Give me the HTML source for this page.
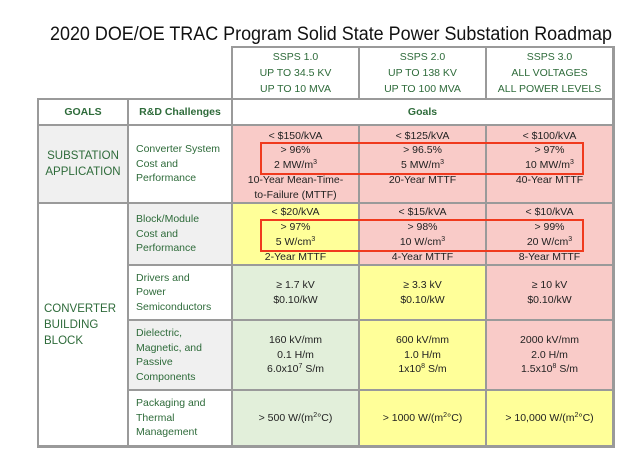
<!DOCTYPE html>
<html><head><meta charset="utf-8"><style>
body{margin:0;width:640px;height:462px;background:#fff;position:relative;overflow:hidden;font-family:"Liberation Sans",sans-serif}
.c{position:absolute;box-sizing:border-box;display:flex;flex-direction:column;justify-content:center;align-items:center;text-align:center;font-size:10.5px;line-height:14.5px;color:#222}
.g{color:#2e6b3a}
.l{align-items:flex-start;text-align:left;padding-left:8px}
.ln{position:absolute;background:#9a9a9a}
.red{position:absolute;border:2.5px solid #f03a1e;box-sizing:border-box}
sup{font-size:7px;line-height:0;vertical-align:4px}
.s{justify-content:flex-start;padding-top:3.6px;line-height:14.8px}
.b{justify-content:flex-start;padding-top:1.5px;line-height:15px}
</style></head><body>
<svg style="position:absolute;left:0;top:0" width="640" height="50"><text x="50" y="40" font-family="Liberation Sans,sans-serif" font-size="19" textLength="562" lengthAdjust="spacingAndGlyphs" fill="#111">2020 DOE/OE TRAC Program Solid State Power Substation Roadmap</text></svg>

<div class="c g" style="left:232px;top:47px;width:127px;height:52px;line-height:16px"><div>SSPS 1.0<br>UP TO 34.5 KV<br>UP TO 10 MVA</div></div>
<div class="c g" style="left:359px;top:47px;width:127px;height:52px;line-height:16px"><div>SSPS 2.0<br>UP TO 138 KV<br>UP TO 100 MVA</div></div>
<div class="c g" style="left:486px;top:47px;width:127px;height:52px;line-height:16px"><div>SSPS 3.0<br>ALL VOLTAGES<br>ALL POWER LEVELS</div></div>

<div class="c g" style="left:38px;top:99px;width:90px;height:26px;font-weight:bold"><div>GOALS</div></div>
<div class="c g" style="left:128px;top:99px;width:104px;height:26px;font-weight:bold"><div>R&amp;D Challenges</div></div>
<div class="c g" style="left:232px;top:99px;width:381px;height:26px;font-weight:bold"><div>Goals</div></div>

<div class="c g" style="left:38px;top:125px;width:90px;height:78px;background:#f0f0f0;font-size:11.5px;line-height:16px"><div>SUBSTATION<br>APPLICATION</div></div>
<div class="c g l" style="left:128px;top:125px;width:104px;height:78px"><div>Converter System<br>Cost and<br>Performance</div></div>
<div class="c s" style="left:232px;top:125px;width:127px;height:78px;background:#f9cbc8"><div>&lt; $150/kVA<br>&gt; 96%<br>2 MW/m<sup>3</sup><br>10-Year Mean-Time-<br>to-Failure (MTTF)</div></div>
<div class="c s" style="left:359px;top:125px;width:127px;height:78px;background:#f9cbc8"><div>&lt; $125/kVA<br>&gt; 96.5%<br>5 MW/m<sup>3</sup><br>20-Year MTTF</div></div>
<div class="c s" style="left:486px;top:125px;width:127px;height:78px;background:#f9cbc8"><div>&lt; $100/kVA<br>&gt; 97%<br>10 MW/m<sup>3</sup><br>40-Year MTTF</div></div>

<div class="c g l" style="left:38px;top:203px;width:90px;height:243px;font-size:11.5px;line-height:16px;padding-left:6px"><div>CONVERTER<br>BUILDING<br>BLOCK</div></div>
<div class="c g l" style="left:128px;top:203px;width:104px;height:62px;background:#f0f0f0"><div>Block/Module<br>Cost and<br>Performance</div></div>
<div class="c b" style="left:232px;top:203px;width:127px;height:62px;background:#ffff99"><div>&lt; $20/kVA<br>&gt; 97%<br>5 W/cm<sup>3</sup><br>2-Year MTTF</div></div>
<div class="c b" style="left:359px;top:203px;width:127px;height:62px;background:#f9cbc8"><div>&lt; $15/kVA<br>&gt; 98%<br>10 W/cm<sup>3</sup><br>4-Year MTTF</div></div>
<div class="c b" style="left:486px;top:203px;width:127px;height:62px;background:#f9cbc8"><div>&lt; $10/kVA<br>&gt; 99%<br>20 W/cm<sup>3</sup><br>8-Year MTTF</div></div>

<div class="c g l" style="left:128px;top:265px;width:104px;height:55px"><div>Drivers and<br>Power<br>Semiconductors</div></div>
<div class="c" style="left:232px;top:265px;width:127px;height:55px;background:#e2efda"><div>≥ 1.7 kV<br>$0.10/kW</div></div>
<div class="c" style="left:359px;top:265px;width:127px;height:55px;background:#ffff99"><div>≥ 3.3 kV<br>$0.10/kW</div></div>
<div class="c" style="left:486px;top:265px;width:127px;height:55px;background:#f9cbc8"><div>≥ 10 kV<br>$0.10/kW</div></div>

<div class="c g l" style="left:128px;top:320px;width:104px;height:70px;background:#f0f0f0"><div>Dielectric,<br>Magnetic, and<br>Passive<br>Components</div></div>
<div class="c" style="left:232px;top:320px;width:127px;height:70px;background:#e2efda"><div>160 kV/mm<br>0.1 H/m<br>6.0x10<sup>7</sup> S/m</div></div>
<div class="c" style="left:359px;top:320px;width:127px;height:70px;background:#ffff99"><div>600 kV/mm<br>1.0 H/m<br>1x10<sup>8</sup> S/m</div></div>
<div class="c" style="left:486px;top:320px;width:127px;height:70px;background:#f9cbc8"><div>2000 kV/mm<br>2.0 H/m<br>1.5x10<sup>8</sup> S/m</div></div>

<div class="c g l" style="left:128px;top:390px;width:104px;height:56px"><div>Packaging and<br>Thermal<br>Management</div></div>
<div class="c" style="left:232px;top:390px;width:127px;height:56px;background:#e2efda"><div>&gt; 500 W/(m<sup>2</sup>°C)</div></div>
<div class="c" style="left:359px;top:390px;width:127px;height:56px;background:#ffff99"><div>&gt; 1000 W/(m<sup>2</sup>°C)</div></div>
<div class="c" style="left:486px;top:390px;width:127px;height:56px;background:#ffff99"><div>&gt; 10,000 W/(m<sup>2</sup>°C)</div></div>

<div class="ln" style="left:231px;top:46px;width:382px;height:2px"></div>
<div class="ln" style="left:37px;top:98px;width:576px;height:2px"></div>
<div class="ln" style="left:38px;top:124px;width:575px;height:2px"></div>
<div class="ln" style="left:38px;top:202px;width:575px;height:2px"></div>
<div class="ln" style="left:128px;top:264px;width:485px;height:2px"></div>
<div class="ln" style="left:128px;top:319px;width:485px;height:2px"></div>
<div class="ln" style="left:128px;top:389px;width:485px;height:2px"></div>
<div class="ln" style="left:37px;top:445px;width:578px;height:3px"></div>
<div class="ln" style="left:37px;top:98px;width:2px;height:350px"></div>
<div class="ln" style="left:127px;top:98px;width:2px;height:348px"></div>
<div class="ln" style="left:231px;top:46px;width:2px;height:400px"></div>
<div class="ln" style="left:358px;top:46px;width:2px;height:53px"></div>
<div class="ln" style="left:485px;top:46px;width:2px;height:53px"></div>
<div class="ln" style="left:358px;top:125px;width:2px;height:321px"></div>
<div class="ln" style="left:485px;top:125px;width:2px;height:321px"></div>
<div class="ln" style="left:612px;top:46px;width:3px;height:402px"></div>

<div class="red" style="left:260px;top:142px;width:324px;height:33px"></div>
<div class="red" style="left:260px;top:219px;width:324px;height:33px"></div>
</body></html>
